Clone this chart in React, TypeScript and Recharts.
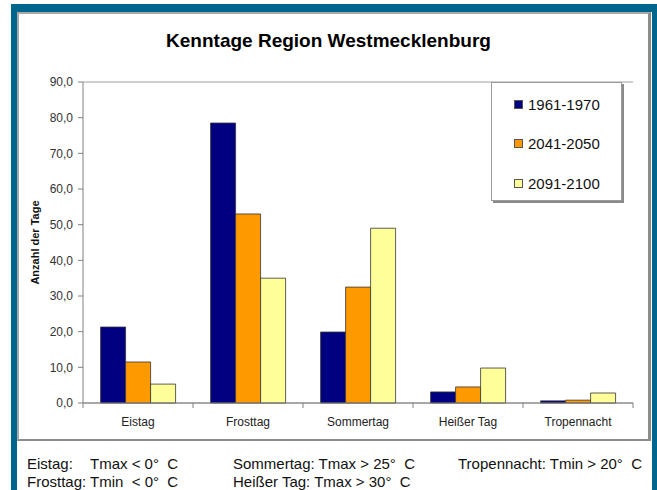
import React from 'react';
import { BarChart, Bar, XAxis, YAxis, CartesianGrid } from 'recharts';

const categories = ['Eistag', 'Frosttag', 'Sommertag', 'Heißer Tag', 'Tropennacht'];
const s1961 = [21.3, 78.5, 19.9, 3.1, 0.6];
const s2041 = [11.5, 53.0, 32.5, 4.5, 0.8];
const s2091 = [5.3, 35.0, 49.0, 9.8, 2.8];
const yTicks = [0, 10, 20, 30, 40, 50, 60, 70, 80, 90];
const seriesNames = ['1961-1970', '2041-2050', '2091-2100'];
const seriesColors = ['#000080', '#FF9900', '#FFFF99'];

const data = categories.map((c, i) => ({
  name: c,
  a: s1961[i],
  b: s2041[i],
  c: s2091[i],
}));

const W = 657;
const H = 490;
const M = { top: 82, right: 24, bottom: 57, left: 23 };
const YW = 60;
const PLOT_W = W - M.left - YW - M.right;
const BAND = PLOT_W / categories.length;

const FONT = '"Liberation Sans", Arial, sans-serif';

const XTick = (props: any) => {
  const { x, y, payload, index } = props;
  const last = index === categories.length - 1;
  return (
    <g>
      <line x1={x - BAND / 2} x2={x - BAND / 2} y1={y - 8} y2={y - 3} stroke="#808080" />
      {last && <line x1={x + BAND / 2} x2={x + BAND / 2} y1={y - 8} y2={y - 3} stroke="#808080" />}
      <text x={x} y={y + 15} textAnchor="middle" fontSize={12} fill="#222" fontFamily={FONT}>
        {payload.value}
      </text>
    </g>
  );
};

const LegendBox = () => (
  <div
    style={{
      position: 'absolute',
      left: 491,
      top: 82,
      width: 131,
      height: 119,
      border: '1px solid #9a9a9a',
      boxShadow: '2px 2px 0 #8a8a8a',
      background: '#fff',
      boxSizing: 'border-box',
      fontFamily: FONT,
    }}
  >
    {seriesNames.map((n, i) => (
      <div
        key={n}
        style={{ position: 'absolute', left: 22, top: 12 + i * 39.5, height: 18, display: 'flex', alignItems: 'center' }}
      >
        <span
          style={{
            display: 'inline-block',
            width: 9,
            height: 9,
            background: seriesColors[i],
            border: '1px solid #555',
            boxSizing: 'border-box',
            marginRight: 5,
          }}
        />
        <span style={{ fontSize: 15, color: '#111' }}>{n}</span>
      </div>
    ))}
  </div>
);

const footStyle: React.CSSProperties = {
  position: 'absolute',
  fontFamily: FONT,
  fontSize: 15,
  color: '#111',
  whiteSpace: 'pre',
  lineHeight: '18px',
};

export default function App() {
  return (
    <div style={{ position: 'absolute', left: 0, top: 0, width: W, height: H, background: '#fff', overflow: 'hidden' }}>
      {/* teal frame */}
      <div style={{ position: 'absolute', left: 11, top: 4, width: W - 11, height: H, background: '#00668c' }} />
      <div style={{ position: 'absolute', left: 17, top: 12, width: 635, height: H, background: '#fff' }} />
      {/* chart panel border */}
      <div
        style={{
          position: 'absolute',
          left: 17,
          top: 12,
          width: 634,
          height: 429,
          boxSizing: 'border-box',
          borderTop: '2px solid #a8a8a8',
          borderLeft: '2px solid #a8a8a8',
          borderRight: '3px solid #8c8c8c',
          borderBottom: '2px solid #8c8c8c',
        }}
      />
      <div
        style={{
          position: 'absolute',
          left: 0,
          top: 30,
          width: W,
          textAlign: 'center',
          fontFamily: FONT,
          fontWeight: 'bold',
          fontSize: 19,
          color: '#000',
        }}
      >
        Kenntage Region Westmecklenburg
      </div>
      <div style={{ position: 'absolute', left: 0, top: 0 }}>
        <BarChart width={W} height={H} data={data} margin={M} barCategoryGap="16%" barGap={0}>
          <CartesianGrid vertical={false} horizontal={true} stroke="#a0a0a0" strokeDasharray="" />
          <XAxis
            dataKey="name"
            axisLine={{ stroke: '#808080' }}
            tickLine={false}
            tick={<XTick />}
            interval={0}
            height={30}
          />
          <YAxis
            yAxisId="left"
            domain={[0, 90]}
            ticks={yTicks}
            width={YW}
            axisLine={{ stroke: '#808080' }}
            tickLine={{ stroke: '#808080' }}
            tickSize={5}
            tickMargin={5}
            interval={0}
            tick={{ fontSize: 12, fill: '#333', fontFamily: FONT }}
            tickFormatter={(v: number) => v.toFixed(1).replace('.', ',')}
            label={{
              value: 'Anzahl der Tage',
              angle: -90,
              position: 'insideLeft',
              offset: 12,
              style: { fontSize: 11, fontWeight: 'bold', fill: '#111', fontFamily: FONT, textAnchor: 'middle' },
            }}
          />
          <YAxis
            yAxisId="right"
            orientation="right"
            domain={[0, 90]}
            width={0}
            tick={false}
            tickLine={false}
            axisLine={{ stroke: '#c4c4c4' }}
          />
          <Bar yAxisId="left" dataKey="a" name={seriesNames[0]} fill={seriesColors[0]} stroke="#333" strokeWidth={0.8} isAnimationActive={false} />
          <Bar yAxisId="left" dataKey="b" name={seriesNames[1]} fill={seriesColors[1]} stroke="#333" strokeWidth={0.8} isAnimationActive={false} />
          <Bar yAxisId="left" dataKey="c" name={seriesNames[2]} fill={seriesColors[2]} stroke="#333" strokeWidth={0.8} isAnimationActive={false} />
        </BarChart>
      </div>
      <LegendBox />
      {/* footer definitions */}
      <div style={{ ...footStyle, left: 27, top: 455 }}>{'Eistag:'}</div>
      <div style={{ ...footStyle, left: 90, top: 455 }}>{'Tmax < 0°  C'}</div>
      <div style={{ ...footStyle, left: 27, top: 473 }}>{'Frosttag: Tmin  < 0°  C'}</div>
      <div style={{ ...footStyle, left: 233, top: 455 }}>{'Sommertag: Tmax > 25°  C'}</div>
      <div style={{ ...footStyle, left: 233, top: 473 }}>{'Heißer Tag: Tmax > 30°  C'}</div>
      <div style={{ ...footStyle, left: 458, top: 455 }}>{'Tropennacht: Tmin > 20°  C'}</div>
    </div>
  );
}
